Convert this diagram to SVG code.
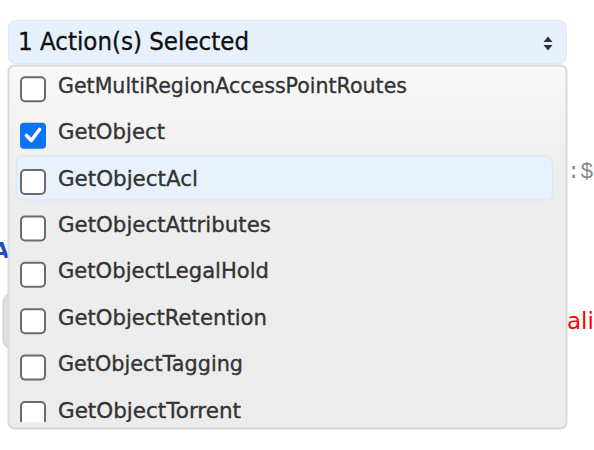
<svg xmlns="http://www.w3.org/2000/svg" width="594" height="450" viewBox="0 0 594 450">
  <defs>
    <style>
      .lbl { font-family: "DejaVu Sans", "Liberation Sans", sans-serif; font-size: 21px; fill: #333333; stroke: #333333; stroke-width: 0.35px; }
      .box { fill: #ffffff; stroke: #6b6b6b; stroke-width: 2; }
      .sel { font-family: "DejaVu Sans", "Liberation Sans", sans-serif; font-size: 24px; fill: #111111; stroke: #111111; stroke-width: 0.35px; }
    </style>
    <linearGradient id="panelGrad" x1="0" y1="0" x2="0" y2="1">
      <stop offset="0" stop-color="#f8f8f8"/>
      <stop offset="0.35" stop-color="#ededed"/>
      <stop offset="1" stop-color="#ececec"/>
    </linearGradient>
    <clipPath id="listClip">
      <rect x="8" y="67" width="560" height="355"/>
    </clipPath>
  </defs>

  <rect width="594" height="450" fill="#ffffff"/>

  <g id="background-page">
    <text x="-8" y="258" font-family="DejaVu Sans, sans-serif" font-size="22" font-weight="bold" fill="#1f4fb5">A</text>
    <rect x="3" y="293" width="60" height="56" rx="9" fill="#dedede" stroke="#cfcfcf" stroke-width="1"/>
    <text x="567" y="178" font-family="Liberation Mono, monospace" font-size="22" fill="#888888">:$</text>
    <text x="567" y="329" font-family="DejaVu Sans, sans-serif" font-size="23" fill="#ff0000">ali</text>
  </g>

  <g id="select">
    <rect x="8.5" y="20.5" width="558" height="43" rx="7" fill="#e7f1fd" stroke="#dce8f8" stroke-width="1"/>
    <text class="sel" x="18" y="50" textLength="231" lengthAdjust="spacingAndGlyphs">1 Action(s) Selected</text>
    <polygon points="543.5,42 552.5,42 548,36.5" fill="#333333"/>
    <polygon points="543.5,45 552.5,45 548,50.5" fill="#333333"/>
  </g>

  <g id="dropdown">
    <rect x="8.5" y="65.5" width="558" height="363" rx="6" fill="url(#panelGrad)" stroke="#d9d9d9" stroke-width="2"/>
    <g clip-path="url(#listClip)">
      <g id="item-1">
        <rect class="box" x="21" y="77.2" width="24" height="24" rx="4"/>
        <text class="lbl" x="58" y="92.8" textLength="349" lengthAdjust="spacingAndGlyphs">GetMultiRegionAccessPointRoutes</text>
      </g>
      <g id="item-2">
        <rect x="20" y="122.7" width="26" height="26" rx="4" fill="#0a74f5"/>
        <path d="M26.5 135.5 L31.3 140.5 L39.5 129.5" fill="none" stroke="#ffffff" stroke-width="3.6" stroke-linecap="round" stroke-linejoin="round"/>
        <text class="lbl" x="58" y="139.2" textLength="107" lengthAdjust="spacingAndGlyphs">GetObject</text>
      </g>
      <g id="item-3">
        <rect x="16.5" y="156" width="536" height="44" rx="6" fill="#e8f1fd" stroke="#dbe8f7" stroke-width="1.5"/>
        <rect class="box" x="21" y="170" width="24" height="24" rx="4"/>
        <text class="lbl" x="58" y="185.6" textLength="140" lengthAdjust="spacingAndGlyphs">GetObjectAcl</text>
      </g>
      <g id="item-4">
        <rect class="box" x="21" y="216.4" width="24" height="24" rx="4"/>
        <text class="lbl" x="58" y="232" textLength="213" lengthAdjust="spacingAndGlyphs">GetObjectAttributes</text>
      </g>
      <g id="item-5">
        <rect class="box" x="21" y="262.8" width="24" height="24" rx="4"/>
        <text class="lbl" x="58" y="278.4" textLength="211" lengthAdjust="spacingAndGlyphs">GetObjectLegalHold</text>
      </g>
      <g id="item-6">
        <rect class="box" x="21" y="309.2" width="24" height="24" rx="4"/>
        <text class="lbl" x="58" y="324.8" textLength="209" lengthAdjust="spacingAndGlyphs">GetObjectRetention</text>
      </g>
      <g id="item-7">
        <rect class="box" x="21" y="355.6" width="24" height="24" rx="4"/>
        <text class="lbl" x="58" y="371.2" textLength="185" lengthAdjust="spacingAndGlyphs">GetObjectTagging</text>
      </g>
      <g id="item-8">
        <rect class="box" x="21" y="402" width="24" height="24" rx="4"/>
        <text class="lbl" x="58" y="417.6" textLength="183" lengthAdjust="spacingAndGlyphs">GetObjectTorrent</text>
      </g>
    </g>
  </g>

  <g id="connectors"/>
</svg>
